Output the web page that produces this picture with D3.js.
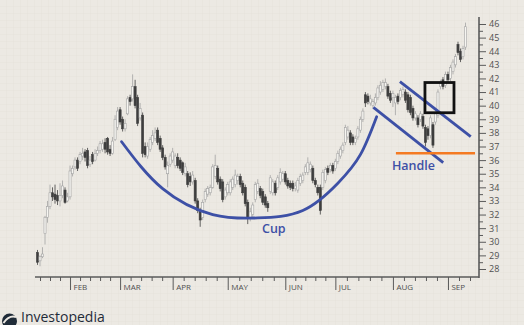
<!DOCTYPE html>
<html>
<head>
<meta charset="utf-8">
<script src="https://cdn.jsdelivr.net/npm/d3@7"></script>
<style>
  body { margin: 0; background: #ece9e3; }
  svg { display: block; }
</style>
</head>
<body>
<svg id="chart" width="524" height="325"></svg>
<script>
// trading days run Tue 15 Jan .. Wed 11 Sep (weekdays only)
const startDay = new Date(2019, 0, 15);
const endDay = new Date(2019, 8, 12);

const opens = [
  29.2, 28.6, 28.9, 30.6, 31.8, 32.6, 33.6, 33.5, 33.4, 33.0,
  33.4, 33.8, 33.0, 33.3, 35.0, 35.5, 36.0, 35.9, 36.3, 36.6,
  36.7, 35.7, 36.4, 36.0, 36.5, 36.7, 36.8, 37.3, 37.6, 36.8,
  36.5, 37.5, 38.4, 39.7, 39.0, 38.3, 39.4, 40.6, 40.5, 41.4,
  40.6, 39.1, 39.3, 37.0, 36.3, 36.8, 37.3, 37.6, 38.2, 37.6,
  36.9, 36.2, 35.0, 35.7, 36.0, 35.6, 36.2, 36.0, 35.8, 35.0,
  35.0, 34.8, 34.4, 34.5, 33.0, 32.3, 31.8, 33.1, 33.5, 33.6,
  34.0, 34.8, 35.4, 34.6, 34.4, 33.3, 33.6, 33.6, 34.0, 34.2,
  34.5, 34.8, 34.3, 34.0, 32.9, 31.8, 32.0, 33.1, 33.7, 33.9,
  33.7, 33.3, 32.8, 33.7, 33.6, 34.3, 34.0, 34.4, 34.6, 35.0,
  34.5, 34.3, 34.3, 33.9, 33.8, 34.3, 34.5, 35.1, 35.1, 35.3,
  35.4, 34.5, 34.0, 34.0, 34.0, 34.5, 35.4, 35.3, 35.6, 35.4,
  35.9, 36.3, 36.7, 37.3, 37.7, 38.0, 37.7, 37.3, 37.7, 38.2,
  39.0, 40.8, 40.7, 40.2, 40.0, 40.2, 40.6, 41.0, 41.2, 41.4,
  41.4, 40.9, 40.6, 40.2, 40.7, 40.6, 40.8, 41.0, 40.8, 40.6,
  39.8, 39.1, 39.1, 39.0, 39.2, 38.4, 38.3, 37.8, 38.6, 38.8,
  39.3, 41.4, 41.9, 41.5, 42.3, 42.0, 42.5, 43.0, 44.5, 44.0,
  43.6, 44.3
];
const highs = [
  29.4, 29.0, 29.6, 31.9, 33.0, 34.2, 34.0, 34.2, 33.8, 34.3,
  34.5, 34.0, 33.6, 35.6, 35.6, 36.2, 36.2, 36.6, 36.9, 36.8,
  36.9, 36.3, 36.6, 36.8, 37.0, 37.4, 37.5, 37.6, 37.7, 37.1,
  37.7, 39.3, 39.9, 39.9, 39.2, 39.0, 40.7, 40.8, 42.3, 41.9,
  40.8, 40.2, 39.5, 37.3, 37.3, 37.7, 38.2, 38.4, 38.4, 37.8,
  37.1, 36.4, 35.9, 36.5, 36.9, 36.5, 36.5, 36.2, 35.9, 35.8,
  35.2, 35.1, 35.2, 34.7, 33.2, 32.5, 33.1, 33.9, 34.1, 34.2,
  35.7, 36.4, 35.6, 34.8, 34.6, 34.0, 34.4, 34.6, 34.8, 35.3,
  35.0, 35.0, 34.5, 34.2, 33.1, 32.5, 32.9, 34.4, 34.6, 34.1,
  33.9, 33.5, 33.0, 34.9, 34.6, 34.5, 34.9, 35.4, 35.2, 35.2,
  34.7, 34.5, 34.5, 34.4, 34.7, 35.0, 35.1, 35.7, 36.2, 35.9,
  35.6, 34.7, 34.2, 34.2, 35.3, 35.5, 35.6, 35.8, 35.8, 36.1,
  36.7, 37.0, 37.3, 38.6, 38.5, 38.2, 37.9, 37.8, 38.5, 39.2,
  39.8, 41.0, 40.9, 40.8, 40.5, 40.9, 41.5, 41.8, 41.9, 42.0,
  41.6, 41.1, 41.1, 40.8, 40.9, 41.3, 41.4, 41.2, 41.0, 40.8,
  40.0, 39.6, 39.3, 39.6, 39.4, 38.6, 38.5, 39.3, 38.8, 39.7,
  41.2, 41.9, 42.1, 42.5, 42.5, 43.0, 43.4, 43.8, 44.7, 44.2,
  44.4, 46.1
];
const lows = [
  28.3, 28.2, 28.8, 29.8, 31.4, 32.4, 33.0, 32.8, 32.7, 32.6,
  33.2, 32.8, 32.9, 33.1, 34.8, 35.3, 35.2, 35.7, 36.0, 35.9,
  35.4, 35.5, 35.7, 35.9, 36.3, 36.5, 36.6, 36.5, 36.4, 36.3,
  36.4, 37.4, 38.2, 38.6, 38.1, 38.1, 39.3, 40.0, 40.3, 39.8,
  38.5, 38.9, 36.2, 36.2, 36.1, 36.6, 37.1, 37.4, 37.1, 36.6,
  36.0, 35.3, 34.0, 35.5, 35.8, 35.4, 35.4, 35.2, 34.9, 34.8,
  34.0, 34.1, 34.2, 32.8, 32.1, 31.1, 31.6, 32.9, 33.3, 33.4,
  33.9, 34.6, 34.2, 33.7, 32.9, 33.1, 33.4, 33.4, 33.8, 34.0,
  34.2, 34.0, 33.4, 32.6, 31.3, 31.5, 31.8, 32.9, 33.5, 33.2,
  32.7, 32.5, 32.2, 33.5, 33.4, 33.4, 33.8, 34.2, 34.4, 34.2,
  33.9, 33.8, 33.7, 33.7, 33.6, 34.1, 34.3, 34.9, 34.9, 35.1,
  34.3, 34.0, 33.4, 32.0, 33.8, 34.3, 34.9, 35.1, 35.0, 35.2,
  35.7, 36.1, 36.5, 37.1, 37.5, 37.1, 37.1, 37.1, 37.5, 38.0,
  38.8, 39.9, 40.1, 40.0, 39.8, 40.0, 40.4, 40.8, 41.0, 41.2,
  40.5, 40.2, 39.9, 39.3, 40.1, 40.4, 40.6, 40.2, 39.5, 39.3,
  38.9, 38.9, 38.4, 38.8, 38.3, 37.0, 37.5, 37.6, 36.9, 38.6,
  39.1, 41.2, 41.2, 41.3, 41.7, 41.8, 42.3, 42.8, 43.7, 43.2,
  43.4, 44.1
];
const closes = [
  28.5, 28.9, 29.1, 31.8, 32.6, 33.6, 33.3, 33.1, 33.0, 33.4,
  34.1, 32.9, 33.3, 35.2, 35.4, 36.0, 35.4, 36.4, 36.5, 36.2,
  35.6, 36.0, 35.9, 36.5, 36.7, 37.2, 37.2, 36.8, 36.6, 36.5,
  37.4, 39.0, 39.6, 38.8, 38.3, 38.7, 40.5, 40.3, 41.4, 40.0,
  38.7, 39.8, 36.5, 36.4, 37.0, 37.5, 37.8, 38.0, 37.3, 36.8,
  36.2, 35.5, 35.6, 36.3, 36.6, 36.3, 35.6, 35.4, 35.1, 35.5,
  34.2, 34.4, 34.9, 33.0, 32.3, 31.6, 32.9, 33.7, 33.9, 34.0,
  35.5, 35.6, 34.4, 33.9, 33.1, 33.8, 34.2, 34.4, 34.6, 34.9,
  34.8, 34.2, 33.6, 32.8, 31.7, 32.2, 32.7, 34.2, 34.3, 33.4,
  32.9, 32.7, 32.5, 34.7, 34.4, 33.6, 34.7, 35.1, 35.0, 34.4,
  34.1, 34.0, 33.9, 34.1, 34.5, 34.8, 34.9, 35.5, 35.8, 35.7,
  34.5, 34.2, 33.6, 32.3, 35.1, 35.3, 35.1, 35.6, 35.2, 35.9,
  36.5, 36.8, 37.1, 38.4, 38.2, 37.3, 37.3, 37.6, 38.3, 39.0,
  39.6, 40.2, 40.3, 40.5, 40.3, 40.6, 41.3, 41.5, 41.7, 41.7,
  40.7, 40.4, 40.9, 40.6, 40.3, 41.1, 41.2, 40.4, 39.7, 39.5,
  39.1, 39.4, 38.6, 39.4, 38.5, 37.3, 37.8, 39.1, 37.1, 39.5,
  41.0, 41.7, 41.4, 42.3, 41.9, 42.8, 43.2, 43.6, 43.9, 43.4,
  44.2, 45.8
];

const priceTicks = d3.range(28, 47);

// annotations, in [trading day index, price]
const cupPoints = [[33.6, 37.35], [50.0, 33.9], [70.0, 32.0], [88.0, 31.75],
                   [106.0, 32.3], [120.0, 34.3], [129.0, 36.4], [135.5, 39.19]];
const handleUpper = [[144.8, 41.76], [173.1, 37.72]];
const handleLower = [[134.2, 39.88], [162.1, 35.81]];
const supportLine = [[143.2, 36.5], [174.8, 36.5]];
const breakoutBox = [[154.8, 41.7], [166.4, 39.48]];
const cupLabel = { text: "Cup", at: [89.7, 30.64] };
const handleLabel = { text: "Handle", at: [141.6, 35.27] };

const blue = "#3d50a6";

const svg = d3.select("#chart");

// background with faint paper grid
const defs = svg.append("defs");
const pat = defs.append("pattern")
  .attr("id", "paper")
  .attr("width", 7).attr("height", 7)
  .attr("patternUnits", "userSpaceOnUse");
pat.append("rect").attr("width", 7).attr("height", 7).attr("fill", "#ece9e3");
pat.append("path").attr("d", "M7 0V7M0 7H7")
  .attr("stroke", "#e2dfd8").attr("stroke-width", 0.6);
svg.append("rect").attr("width", 524).attr("height", 325).attr("fill", "url(#paper)");

const days = d3.timeDay.range(startDay, endDay)
  .filter(d => d.getDay() != 0 && d.getDay() != 6)
  .slice(0, closes.length);

const candles = days.map((d, i) => ({
  i: i, date: d, o: opens[i], h: highs[i], l: lows[i], c: closes[i]
}));

const x = d3.scaleLinear()
  .domain([0, candles.length - 1])
  .range([37.5, 465.5]);
const y = d3.scaleLinear()
  .domain([28, 46])
  .range([269, 24]);

const axisRightX = 479, axisBottomY = 277;

// month ticks at the first trading day of each month
let monthIdx = [];
candles.forEach((d, k) => {
  if (k > 0 && d.date.getMonth() != candles[k - 1].date.getMonth()) monthIdx.push(k);
});
let minorIdx = [];
for (let m = 0; m < monthIdx.length - 1; m++) {
  let a = monthIdx[m], b = monthIdx[m + 1];
  for (let k = 1; k < 5; k++) minorIdx.push(a + (b - a) * k / 5);
}
let firstStep = (monthIdx[1] - monthIdx[0]) / 5;
let lastStep = (monthIdx[monthIdx.length - 1] - monthIdx[monthIdx.length - 2]) / 5;
for (let k = 1; k < 5; k++) {
  minorIdx.push(monthIdx[0] - firstStep * k);
  minorIdx.push(monthIdx[monthIdx.length - 1] + lastStep * k);
}
minorIdx = minorIdx.filter(v => x(v) >= 35 && x(v) <= axisRightX);

const fmtMonth = d3.timeFormat("%b");

// bottom axis
const gx = svg.append("g").attr("transform", `translate(0,${axisBottomY})`);
gx.append("g").call(d3.axisBottom(x).tickValues(minorIdx).tickSize(4).tickFormat(""));
gx.append("g").call(d3.axisBottom(x).tickValues(monthIdx).tickSize(13)
  .tickFormat(k => fmtMonth(candles[k].date).toUpperCase()));
gx.selectAll(".domain").remove();
gx.append("line").attr("x1", 35).attr("x2", axisRightX)
  .attr("stroke", "#5a5a5a").attr("stroke-width", 1.6);
gx.selectAll(".tick line").attr("stroke", "#5a5a5a").attr("stroke-width", 1);
gx.selectAll(".tick text")
  .attr("text-anchor", "start")
  .attr("x", 3).attr("y", 7)
  .attr("fill", "#505050")
  .style("font-family", "'Open Sans', sans-serif")
  .style("font-size", "8px");

// right axis
const gy = svg.append("g").attr("transform", `translate(${axisRightX},0)`);
gy.append("g").call(d3.axisRight(y).tickValues(d3.range(28.5, 46, 1)).tickSize(4).tickFormat(""));
gy.append("g").call(d3.axisRight(y).tickValues(priceTicks).tickSize(7).tickPadding(3));
gy.selectAll(".domain").remove();
gy.append("line").attr("y1", 17).attr("y2", axisBottomY + 1)
  .attr("stroke", "#5a5a5a").attr("stroke-width", 1.6);
gy.selectAll(".tick line").attr("stroke", "#5a5a5a").attr("stroke-width", 1);
gy.selectAll(".tick text")
  .attr("fill", "#505050")
  .style("font-family", "'Open Sans', sans-serif")
  .style("font-size", "9px");

// candlesticks
const cw = 2.1;
const cg = svg.append("g").selectAll("g").data(candles).enter().append("g");
cg.append("line")
  .attr("x1", d => x(d.i)).attr("x2", d => x(d.i))
  .attr("y1", d => y(d.h)).attr("y2", d => y(d.l))
  .attr("stroke", d => d.c < d.o ? "#404040" : "#a3a3a3")
  .attr("stroke-width", 0.8);
cg.append("rect")
  .attr("x", d => x(d.i) - cw / 2)
  .attr("width", cw)
  .attr("y", d => y(Math.max(d.o, d.c)))
  .attr("height", d => Math.max(0.8, Math.abs(y(d.o) - y(d.c))))
  .attr("fill", d => d.c < d.o ? "#3e3e3e" : "#f6f5f1")
  .attr("stroke", d => d.c < d.o ? "#3e3e3e" : "#a3a3a3")
  .attr("stroke-width", 0.6);

// annotations
const curve = d3.line().x(d => x(d[0])).y(d => y(d[1])).curve(d3.curveNatural);
svg.append("path")
  .attr("d", curve(cupPoints))
  .attr("fill", "none").attr("stroke", blue).attr("stroke-width", 2.8)
  .attr("stroke-linecap", "round");

const straight = d3.line().x(d => x(d[0])).y(d => y(d[1]));
[handleUpper, handleLower].forEach(seg => {
  svg.append("path").attr("d", straight(seg))
    .attr("stroke", blue).attr("stroke-width", 2.8).attr("fill", "none");
});
svg.append("path").attr("d", straight(supportLine))
  .attr("stroke", "#f47a22").attr("stroke-width", 2.4).attr("fill", "none");

svg.append("rect")
  .attr("x", x(breakoutBox[0][0]))
  .attr("y", y(breakoutBox[0][1]))
  .attr("width", x(breakoutBox[1][0]) - x(breakoutBox[0][0]))
  .attr("height", y(breakoutBox[1][1]) - y(breakoutBox[0][1]))
  .attr("fill", "none").attr("stroke", "#111").attr("stroke-width", 2.8);

[cupLabel, handleLabel].forEach(lb => {
  svg.append("text")
    .attr("x", x(lb.at[0])).attr("y", y(lb.at[1]))
    .attr("fill", blue)
    .style("font-family", "'Open Sans', sans-serif")
    .style("font-weight", 600)
    .style("font-size", "12.5px")
    .text(lb.text);
});

// logo
const logo = svg.append("g");
logo.append("circle").attr("cx", 9.5).attr("cy", 321).attr("r", 7.5).attr("fill", "#1f2b38");
logo.append("path").attr("d", "M3.5 323 Q9 315 16 317")
  .attr("stroke", "#ece9e3").attr("stroke-width", 2).attr("fill", "none");
logo.append("text")
  .attr("x", 21).attr("y", 322)
  .attr("fill", "#1f2b38")
  .style("font-family", "'Open Sans', sans-serif")
  .style("font-size", "14px")
  .text("Investopedia");
</script>
</body>
</html>
